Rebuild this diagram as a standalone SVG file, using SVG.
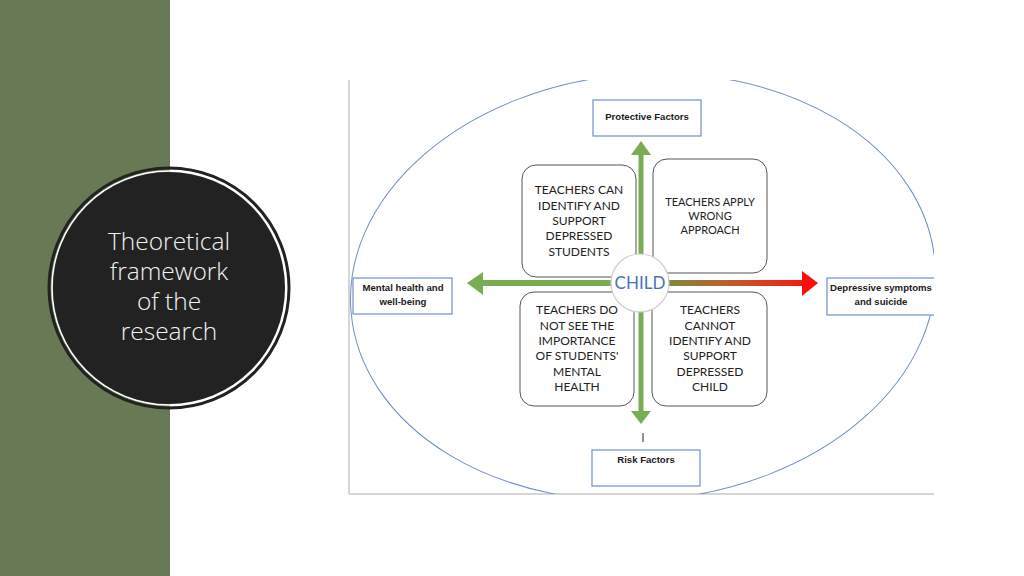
<svg xmlns="http://www.w3.org/2000/svg" width="1024" height="576" viewBox="0 0 1024 576">
<style>
.title{font-family:"Open Sans","Noto Sans",sans-serif;font-size:24.5px;fill:#f2f2f2;text-anchor:middle;font-weight:300}
.bx{fill:#fff;stroke:#6f8fcc;stroke-width:1.2}
.bt{font-family:"Liberation Sans",Arial,sans-serif;font-size:9.6px;font-weight:bold;fill:#1a1a1a;text-anchor:middle}
.rb{fill:#fff;stroke:#555;stroke-width:1}
.rt{font-family:Lato,"Open Sans",sans-serif;font-size:12px;fill:#222;text-anchor:middle}
.grn{fill:#7aab55}
</style>
<defs>
<clipPath id="frame"><rect x="349" y="80" width="585" height="414"/></clipPath>
<linearGradient id="rg" x1="668" y1="0" x2="818" y2="0" gradientUnits="userSpaceOnUse">
<stop offset="0" stop-color="#7d8a3e"/>
<stop offset="0.45" stop-color="#c05a2c"/>
<stop offset="1" stop-color="#ff0d0d"/>
</linearGradient>
</defs>
<rect width="1024" height="576" fill="#fff"/>
<rect x="0" y="0" width="170" height="576" fill="#687a55"/>
<g id="title-circle">
<circle cx="169" cy="288" r="120" fill="none" stroke="#222" stroke-width="3"/>
<circle cx="169" cy="288" r="117" fill="none" stroke="#fff" stroke-width="1.5"/>
<circle cx="169" cy="288" r="116" fill="#222"/>
<text class="title" x="169" y="250">Theoretical</text>
<text class="title" x="169" y="280">framework</text>
<text class="title" x="169" y="310">of the</text>
<text class="title" x="169" y="340">research</text>
</g>
<g id="frame-lines" stroke="#c8c8c8" stroke-width="1.5" fill="none">
<line x1="349" y1="80" x2="349" y2="494"/>
<line x1="349" y1="494" x2="934" y2="494"/>
</g>
<g clip-path="url(#frame)">
<ellipse cx="643" cy="287" rx="293" ry="213" transform="rotate(-5 643 287)" fill="none" stroke="#6c8ec6" stroke-width="1"/>
</g>
<g id="connectors">
<rect class="grn" x="638.5" y="154" width="5" height="260"/>
<polygon class="grn" points="641,141 651,155 631,155"/>
<polygon class="grn" points="641,424 651,411 631,411"/>
<rect class="grn" x="480" y="280" width="135" height="6"/>
<polygon class="grn" points="467,283 483,272 483,295"/>
<rect x="668" y="280" width="136" height="6" fill="url(#rg)"/>
<polygon points="818,283 802,271 802,296" fill="#ff0d0d"/>
<line x1="643" y1="433" x2="643" y2="442" stroke="#222" stroke-width="1"/>
</g>
<g id="protective">
<rect class="bx" x="593" y="100" width="108" height="36"/>
<text class="bt" x="647" y="120">Protective Factors</text>
</g>
<g id="mental">
<rect class="bx" x="353" y="278" width="99" height="36"/>
<text class="bt" x="403" y="291">Mental health and</text>
<text class="bt" x="403" y="305">well-being</text>
</g>
<g id="depressive" clip-path="url(#frame)">
<rect class="bx" x="827" y="278" width="110" height="37"/>
<text class="bt" x="881" y="291">Depressive symptoms</text>
<text class="bt" x="881" y="305">and suicide</text>
</g>
<g id="risk">
<rect class="bx" x="592" y="450" width="108" height="36"/>
<text class="bt" x="646" y="463">Risk Factors</text>
</g>
<g id="tl">
<rect class="rb" x="522" y="165" width="114" height="112" rx="14"/>
<text class="rt" x="579" y="194">TEACHERS CAN</text>
<text class="rt" x="579" y="210">IDENTIFY AND</text>
<text class="rt" x="579" y="225">SUPPORT</text>
<text class="rt" x="579" y="240">DEPRESSED</text>
<text class="rt" x="579" y="256">STUDENTS</text>
</g>
<g id="tr">
<rect class="rb" x="653" y="159" width="114" height="114" rx="14"/>
<text class="rt" x="710" y="206" style="font-size:11px">TEACHERS APPLY</text>
<text class="rt" x="710" y="220" style="font-size:11px">WRONG</text>
<text class="rt" x="710" y="234" style="font-size:11px">APPROACH</text>
</g>
<g id="bl">
<rect class="rb" x="520" y="292" width="114" height="114" rx="14"/>
<text class="rt" x="577" y="314">TEACHERS DO</text>
<text class="rt" x="577" y="330">NOT SEE THE</text>
<text class="rt" x="577" y="345">IMPORTANCE</text>
<text class="rt" x="577" y="360">OF STUDENTS'</text>
<text class="rt" x="577" y="376">MENTAL</text>
<text class="rt" x="577" y="391">HEALTH</text>
</g>
<g id="br">
<rect class="rb" x="652" y="292" width="115" height="114" rx="14"/>
<text class="rt" x="710" y="314">TEACHERS</text>
<text class="rt" x="710" y="330">CANNOT</text>
<text class="rt" x="710" y="345">IDENTIFY AND</text>
<text class="rt" x="710" y="360">SUPPORT</text>
<text class="rt" x="710" y="376">DEPRESSED</text>
<text class="rt" x="710" y="391">CHILD</text>
</g>
<g id="child">
<circle cx="640" cy="283" r="29" fill="#fff" stroke="#cfcfcf" stroke-width="1.2"/>
<text x="640" y="289" style="font-family:Lato,'Open Sans',sans-serif;font-size:17px;fill:#4a72b8;text-anchor:middle">CHILD</text>
</g>
</svg>
